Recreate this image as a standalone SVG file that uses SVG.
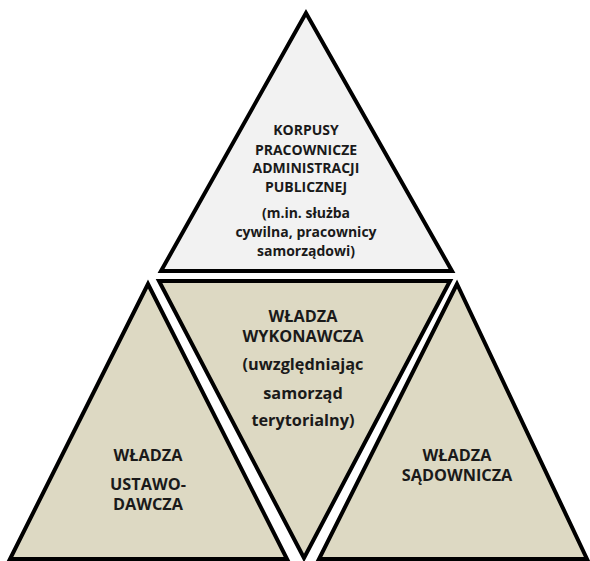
<svg xmlns="http://www.w3.org/2000/svg" width="590" height="561" viewBox="0 0 590 561">
<style>
.tri{stroke:#000;stroke-width:4;stroke-linejoin:miter}
.gray{fill:#f2f2f2}
.beige{fill:#ddd9c3}
text{font-family:"Open Sans","Liberation Sans",Arial,sans-serif;font-weight:bold;font-size:14px;fill:#1a1a1a;text-anchor:middle}
.big{font-size:16.3px}
</style>
<rect width="590" height="561" fill="#fff"/>
<g id="top">
<polygon class="tri gray" points="306,13 161,271 452,271"/>
<text x="306" y="135">KORPUSY</text>
<text x="306" y="155">PRACOWNICZE</text>
<text x="306" y="173">ADMINISTRACJI</text>
<text x="306" y="192">PUBLICZNEJ</text>
<text x="306" y="218">(m.in. służba</text>
<text x="306" y="237">cywilna, pracownicy</text>
<text x="306" y="256">samorządowi)</text>
</g>
<g id="middle">
<polygon class="tri beige" points="159,281 450,281 304,558"/>
<text class="big" x="303" y="322">WŁADZA</text>
<text class="big" x="303" y="342">WYKONAWCZA</text>
<text class="big" x="303" y="370">(uwzględniając</text>
<text class="big" x="303" y="399">samorząd</text>
<text class="big" x="303" y="426">terytorialny)</text>
</g>
<g id="left">
<polygon class="tri beige" points="148,284 10,559 287,559"/>
<text class="big" x="148" y="461">WŁADZA</text>
<text class="big" x="148" y="490">USTAWO-</text>
<text class="big" x="148" y="510">DAWCZA</text>
</g>
<g id="right">
<polygon class="tri beige" points="457,284 319,559 587,559"/>
<text class="big" x="457" y="461">WŁADZA</text>
<text class="big" x="457" y="481">SĄDOWNICZA</text>
</g>
<g id="connectors"/>
</svg>
